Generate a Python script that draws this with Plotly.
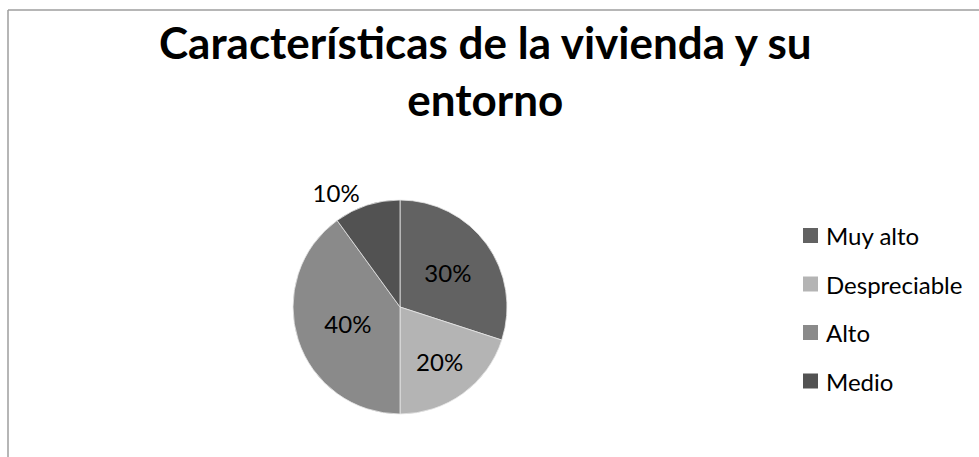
import plotly.graph_objects as go

# Data
categories = ["Muy alto", "Despreciable", "Alto", "Medio"]
values = [30, 20, 40, 10]
colors = ["#626262", "#b4b4b4", "#8a8a8a", "#525252"]
label_positions = ["inside", "inside", "inside", "outside"]
title_text = "Características de la vivienda y su<br>entorno"

W, H = 979, 457
FONT = "Lato"

fig = go.Figure()
fig.add_trace(go.Pie(
    labels=categories,
    values=values,
    sort=False,
    direction="clockwise",
    rotation=0,
    marker=dict(colors=colors, line=dict(color="#e6e6e6", width=0.8)),
    textinfo="percent",
    textposition=label_positions,
    texttemplate="%{percent:.0%}",
    textfont=dict(family=FONT, size=24, color="#000000"),
    insidetextorientation="horizontal",
    domain=dict(x=[293 / W, 507 / W], y=[1 - 414 / H, 1 - 200 / H]),
    showlegend=False,
    hoverinfo="label+percent",
))

# Legend entries built from the category list
legend_x0, legend_y0, legend_step, box = 803, 235.5, 48.5, 15
shapes = []
annotations = []
for i, (name, col) in enumerate(zip(categories, colors)):
    yc = legend_y0 + i * legend_step
    shapes.append(dict(
        type="rect", xref="paper", yref="paper",
        x0=legend_x0 / W, x1=(legend_x0 + box) / W,
        y0=1 - (yc + box / 2) / H, y1=1 - (yc - box / 2) / H,
        fillcolor=col, line=dict(width=0),
    ))
    annotations.append(dict(
        x=(legend_x0 + box + 6) / W, y=1 - yc / H, xref="paper", yref="paper",
        text=name, showarrow=False, xanchor="left", yanchor="middle",
        font=dict(family=FONT, size=24, color="#000000"),
    ))

# Chart frame (top and left edges)
shapes.append(dict(type="line", xref="paper", yref="paper",
                   x0=8 / W, x1=1, y0=1 - 10 / H, y1=1 - 10 / H,
                   line=dict(color="#9e9e9e", width=1.5)))
shapes.append(dict(type="line", xref="paper", yref="paper",
                   x0=8 / W, x1=8 / W, y0=0, y1=1 - 10 / H,
                   line=dict(color="#9e9e9e", width=1.5)))

annotations.append(dict(
    x=485 / W, y=1 - 14 / H, xref="paper", yref="paper",
    text="<b>" + title_text + "</b>", showarrow=False,
    xanchor="center", yanchor="top", align="center",
    font=dict(family=FONT, size=44, color="#000000"),
))

fig.update_layout(
    width=W, height=H,
    margin=dict(l=0, r=0, t=0, b=0),
    paper_bgcolor="#ffffff",
    plot_bgcolor="#ffffff",
    shapes=shapes,
    annotations=annotations,
    showlegend=False,
)

fig.write_html("out.html")
